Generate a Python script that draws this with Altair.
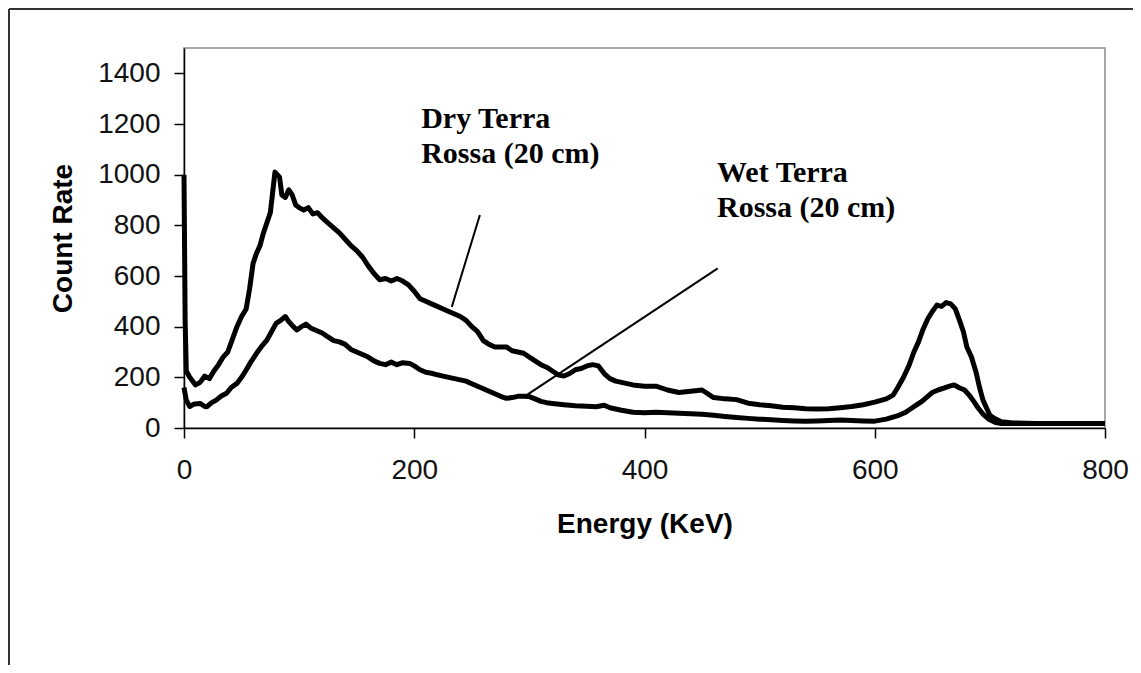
import altair as alt
import pandas as pd

# ---- data ----
energy_dry = [0, 1, 2, 5, 10, 14, 18, 22, 26, 30, 34, 38, 42, 46, 50, 54, 57, 60, 63, 66, 69, 72, 75, 77, 79, 81, 83, 85,
              88, 91, 94, 97, 100, 104, 108, 112, 116, 120, 125, 130, 135, 140, 145, 150, 155, 160, 165, 170, 175, 180,
              185, 190, 195, 200, 205, 210, 215, 220, 225, 230, 235, 240, 245, 250, 255, 260, 265, 270, 275, 280, 285,
              290, 295, 300, 305, 310, 315, 320, 325, 330, 335, 340, 345, 350, 355, 360, 365, 370, 375, 380, 390, 400,
              410, 420, 430, 440, 450, 460, 470, 480, 490, 500, 510, 520, 530, 540, 550, 560, 570, 580, 590, 600, 610,
              616, 620, 625, 630, 634, 638, 642, 646, 650, 654, 658, 662, 666, 670, 674, 677, 680, 684, 688, 691, 694,
              697, 700, 705, 710, 720, 740, 760, 780, 800]
count_dry = [1000, 420, 225, 200, 170, 180, 205, 195, 225, 250, 280, 300, 350, 400, 440, 470, 550, 650, 690, 720, 770,
             810, 850, 930, 1010, 1000, 990, 920, 910, 940, 920, 880, 870, 860, 870, 845, 850, 830, 810, 790, 770, 745,
             720, 700, 675, 640, 610, 585, 590, 580, 590, 580, 565, 540, 510, 500, 490, 480, 470, 460, 450, 440, 425,
             400, 380, 345, 330, 320, 320, 320, 305, 300, 295, 280, 265, 250, 240, 225, 210, 205, 215, 230, 235, 245,
             250, 245, 215, 195, 185, 180, 170, 165, 165, 150, 140, 145, 150, 120, 115, 112, 98, 92, 88, 82, 80, 76, 75,
             76, 80, 85, 92, 102, 115, 130, 160, 200, 250, 300, 340, 390, 430, 460, 485, 480, 495, 490, 470, 420, 380,
             320, 280, 220, 160, 110, 80, 50, 35, 25, 20, 18, 18, 18, 18]

energy_wet = [0, 2, 5, 9, 14, 18, 20, 24, 28, 32, 37, 41, 46, 50, 54, 58, 63, 67, 72, 76, 80, 84, 88, 91, 95, 98, 102,
              106, 110, 115, 120, 125, 130, 135, 140, 145, 150, 155, 160, 165, 170, 175, 180, 185, 190, 196, 200, 205,
              210, 215, 220, 225, 230, 235, 240, 245, 250, 255, 260, 265, 270, 275, 280, 285, 290, 295, 300, 305, 310,
              315, 320, 330, 340, 350, 358, 365, 370, 380, 390, 400, 410, 420, 430, 440, 450, 460, 470, 480, 490, 500,
              510, 520, 530, 540, 550, 560, 570, 580, 590, 600, 610, 615, 621, 626, 631, 636, 641, 646, 650, 655, 660,
              665, 669, 673, 678, 682, 686, 690, 694, 699, 705, 710, 720, 740, 760, 780, 800]
count_wet = [160, 110, 85, 95, 97, 85, 84, 100, 110, 125, 137, 160, 176, 200, 229, 260, 295, 320, 347, 380, 413, 425,
             440, 420, 400, 387, 400, 410, 395, 385, 375, 360, 345, 340, 330, 310, 300, 290, 280, 265, 255, 250, 260,
             250, 258, 255, 245, 230, 220, 216, 210, 205, 200, 195, 190, 185, 175, 165, 155, 145, 135, 125, 117, 120,
             125, 125, 124, 115, 105, 100, 97, 92, 88, 86, 84, 90, 80, 70, 62, 60, 62, 60, 58, 56, 54, 50, 45, 41, 38,
             35, 33, 30, 28, 27, 28, 30, 32, 30, 28, 27, 35, 42, 50, 60, 75, 90, 105, 125, 140, 150, 157, 165, 170, 160,
             150, 130, 105, 78, 55, 35, 22, 18, 18, 18, 18, 18, 18]

x_ticks = [0, 200, 400, 600, 800]
y_ticks = [0, 200, 400, 600, 800, 1000, 1200, 1400]

label_text = ["Dry Terra", "Rossa (20 cm)", "Wet Terra", "Rossa (20 cm)"]
label_energy = [206, 206, 463, 463]
label_count = [1184, 1046, 971, 833]

pointer_e1 = [257, 463.6]
pointer_c1 = [841, 630]
pointer_e2 = [232.6, 297.6]
pointer_c2 = [478, 130]

# ---- tables ----
df = pd.concat([
    pd.DataFrame({"E": energy_dry, "C": count_dry, "s": "dry"}),
    pd.DataFrame({"E": energy_wet, "C": count_wet, "s": "wet"}),
])
labels = pd.DataFrame({"t": label_text, "E": label_energy, "C": label_count})
pointers = pd.DataFrame({"E": pointer_e1, "C": pointer_c1, "E2": pointer_e2, "C2": pointer_c2})
one = pd.DataFrame({"a": [0]})

xscale = alt.Scale(domain=[0, 800], nice=False, zero=False)
yscale = alt.Scale(domain=[0, 1500], nice=False)

lines = alt.Chart(df).mark_line(color="black", strokeWidth=5, strokeJoin="round").encode(
    x=alt.X("E:Q", scale=xscale,
            axis=alt.Axis(values=x_ticks, format="d", title="Energy (KeV)", labelPadding=18,
                          labelFlush=False, titlePadding=26)),
    y=alt.Y("C:Q", scale=yscale,
            axis=alt.Axis(values=y_ticks, format="d", title="Count Rate", labelPadding=14, titlePadding=20)),
    detail="s:N",
)

ptr = alt.Chart(pointers).mark_rule(color="black", strokeWidth=2).encode(
    x="E:Q", y="C:Q", x2="E2:Q", y2="C2:Q"
)

txt = alt.Chart(labels).mark_text(
    align="left", baseline="alphabetic", font="Liberation Serif", fontWeight="bold", fontSize=30, color="black"
).encode(x="E:Q", y="C:Q", text="t:N")

frame_top = alt.Chart(one).mark_rule(color="#333333", strokeWidth=2).encode(
    x=alt.value(-175), x2=alt.value(960), y=alt.value(-39)
)
frame_left = alt.Chart(one).mark_rule(color="#333333", strokeWidth=2).encode(
    x=alt.value(-175), y=alt.value(-39), y2=alt.value(630)
)

chart = alt.layer(lines, ptr, txt, frame_top, frame_left).properties(
    width=921, height=380,
    autosize=alt.AutoSizeParams(type="none"),
    padding={"left": 176, "top": 40, "right": 28, "bottom": 237},
    background="white",
).configure_view(
    stroke="#8c8c8c", strokeWidth=1.5
).configure_axis(
    grid=False, domainColor="black", domainWidth=1.5, tickColor="black", tickWidth=1.5, tickSize=10,
    labelFont="Liberation Sans", labelFontSize=28, labelColor="#111111",
    titleFont="Liberation Sans", titleFontSize=28, titleFontWeight="bold", titleColor="black",
)

chart.save("out.html", embed_options={"renderer": "svg", "actions": False})
